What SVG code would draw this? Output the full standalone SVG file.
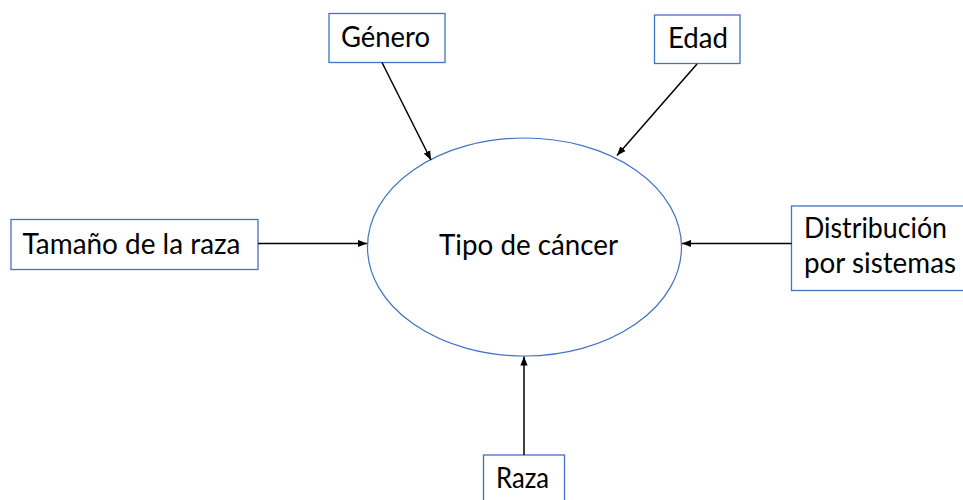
<svg xmlns="http://www.w3.org/2000/svg" width="963" height="500" viewBox="0 0 963 500">
<style>
.box{fill:#fff;stroke:#4472C4;stroke-width:1.3}
.ell{fill:#fff;stroke:#4472C4;stroke-width:1.2}
.lbl{font-family:Lato,"Open Sans","Liberation Sans",sans-serif;font-size:28px;fill:#000}
.con{stroke:#000;stroke-width:1.5;fill:none;marker-end:url(#ah)}
</style>
<defs>
<marker id="ah" viewBox="0 0 10 8" refX="10" refY="4" markerWidth="9" markerHeight="8" markerUnits="userSpaceOnUse" orient="auto">
<path d="M0,0 L10,4 L0,8 z" fill="#000"/>
</marker>
</defs>
<rect width="963" height="500" fill="#fff"/>
<g id="center">
<ellipse class="ell" cx="524.5" cy="247" rx="157" ry="109"/>
<text class="lbl" x="439" y="255" textLength="179" lengthAdjust="spacingAndGlyphs">Tipo de cáncer</text>
</g>
<g id="genero">
<rect class="box" x="329" y="13.5" width="116" height="49"/>
<text class="lbl" x="341" y="47" textLength="89" lengthAdjust="spacingAndGlyphs">Género</text>
</g>
<g id="edad">
<rect class="box" x="654.5" y="15" width="85.5" height="48.5"/>
<text class="lbl" x="668" y="48" textLength="60" lengthAdjust="spacingAndGlyphs">Edad</text>
</g>
<g id="tamano">
<rect class="box" x="11" y="219.5" width="247" height="50"/>
<text class="lbl" x="22.5" y="253.5" textLength="218" lengthAdjust="spacingAndGlyphs">Tamaño de la raza</text>
</g>
<g id="distribucion">
<rect class="box" x="791.5" y="206" width="180" height="84.5"/>
<text class="lbl" x="804" y="238" textLength="143" lengthAdjust="spacingAndGlyphs">Distribución</text>
<text class="lbl" x="804" y="273" textLength="152" lengthAdjust="spacingAndGlyphs">por sistemas</text>
</g>
<g id="raza">
<rect class="box" x="483.5" y="455" width="81" height="60"/>
<text class="lbl" x="496" y="488" textLength="53" lengthAdjust="spacingAndGlyphs">Raza</text>
</g>
<g id="connectors">
<line class="con" x1="382" y1="62.5" x2="431" y2="160"/>
<line class="con" x1="697" y1="64" x2="617" y2="155.5"/>
<line class="con" x1="258" y1="243.5" x2="367" y2="243.5"/>
<line class="con" x1="791.5" y1="243.5" x2="682" y2="243.5"/>
<line class="con" x1="524" y1="455" x2="524" y2="356.5"/>
</g>
</svg>
